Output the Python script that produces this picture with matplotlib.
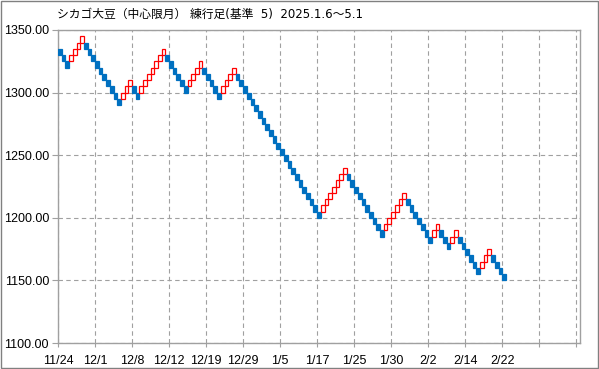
import matplotlib
matplotlib.use("Agg")
import matplotlib.pyplot as plt
from matplotlib.patches import Rectangle

# Renko bricks (box size 5): low price of each brick and its direction
brick_size = 5
brick_low = [1330, 1325, 1320,
             1325, 1330, 1335, 1340,
             1335, 1330, 1325, 1320, 1315, 1310, 1305, 1300, 1295, 1290,
             1295, 1300, 1305,
             1300, 1295,
             1300, 1305, 1310, 1315, 1320, 1325, 1330,
             1325, 1320, 1315, 1310, 1305, 1300,
             1305, 1310, 1315, 1320,
             1315, 1310, 1305, 1300, 1295,
             1300, 1305, 1310, 1315,
             1310, 1305, 1300, 1295, 1290, 1285, 1280, 1275, 1270, 1265,
             1260, 1255, 1250, 1245, 1240, 1235, 1230, 1225, 1220, 1215,
             1210, 1205, 1200,
             1205, 1210, 1215, 1220, 1225, 1230, 1235,
             1230, 1225, 1220, 1215, 1210, 1205, 1200, 1195, 1190, 1185,
             1190, 1195, 1200, 1205, 1210, 1215,
             1210, 1205, 1200, 1195, 1190, 1185, 1180,
             1185, 1190,
             1185, 1180, 1175,
             1180, 1185,
             1180, 1175, 1170, 1165, 1160, 1155,
             1160, 1165, 1170,
             1165, 1160, 1155, 1150]
brick_up = [0, 0, 0,
            1, 1, 1, 1,
            0, 0, 0, 0, 0, 0, 0, 0, 0, 0,
            1, 1, 1,
            0, 0,
            1, 1, 1, 1, 1, 1, 1,
            0, 0, 0, 0, 0, 0,
            1, 1, 1, 1,
            0, 0, 0, 0, 0,
            1, 1, 1, 1,
            0, 0, 0, 0, 0, 0, 0, 0, 0, 0,
            0, 0, 0, 0, 0, 0, 0, 0, 0, 0,
            0, 0, 0,
            1, 1, 1, 1, 1, 1, 1,
            0, 0, 0, 0, 0, 0, 0, 0, 0, 0,
            1, 1, 1, 1, 1, 1,
            0, 0, 0, 0, 0, 0, 0,
            1, 1,
            0, 0, 0,
            1, 1,
            0, 0, 0, 0, 0, 0,
            1, 1, 1,
            0, 0, 0, 0]

tick_labels = ["11/24", "12/1", "12/8", "12/12", "12/19", "12/29", "1/5",
               "1/17", "1/25", "1/30", "2/2", "2/14", "2/22", "", ""]
y_ticks = [1100, 1150, 1200, 1250, 1300, 1350]
title = "シカゴ大豆（中心限月） 練行足(基準  5)  2025.1.6～5.1"

blue = "#0070C0"
red = "#FF0000"
grid_c = "#A0A0A0"

fig = plt.figure(figsize=(5.99, 3.69), dpi=100)
ax = fig.add_axes([58 / 599, 1 - 343 / 369, 522 / 599, 313 / 369])

for i, (low, up) in enumerate(zip(brick_low, brick_up)):
    if up:
        rect = Rectangle((i, low), 1, brick_size, facecolor="none",
                         edgecolor=red, linewidth=0.9, zorder=3)
    else:
        rect = Rectangle((i, low), 1, brick_size, facecolor=blue,
                         edgecolor=blue, linewidth=0.9, zorder=3)
    ax.add_patch(rect)

ax.set_xlim(0, 141)
ax.set_ylim(1100, 1350)
ax.set_xticks(range(0, 150, 10))
ax.set_xticklabels(tick_labels)
ax.set_yticks(y_ticks)
ax.set_yticklabels([f"{v:.2f}" for v in y_ticks])

ax.grid(True, color=grid_c, linestyle=(0, (4, 3)), linewidth=0.8)
ax.set_axisbelow(True)
for sp in ax.spines.values():
    sp.set_color(grid_c)
    sp.set_linewidth(1.0)

ax.tick_params(axis="y", length=4.5, width=0.8, color=grid_c, pad=2,
               labelsize=9, labelcolor="black")
ax.tick_params(axis="x", length=3, width=0.8, color=grid_c, pad=6,
               labelsize=9, labelcolor="black")
for lab in ax.get_xticklabels() + ax.get_yticklabels():
    lab.set_family("Liberation Sans")

fig.text(57 / 599, 1 - 14 / 369, title, fontsize=8.5, va="center",
         ha="left", family=["DejaVu Sans", "Noto Sans CJK JP"])

fig.add_artist(Rectangle((0.001, 0.002), 0.997, 0.996,
                         transform=fig.transFigure, fill=False,
                         edgecolor="#808080", linewidth=1.0))

fig.savefig("out.png", dpi=100)
